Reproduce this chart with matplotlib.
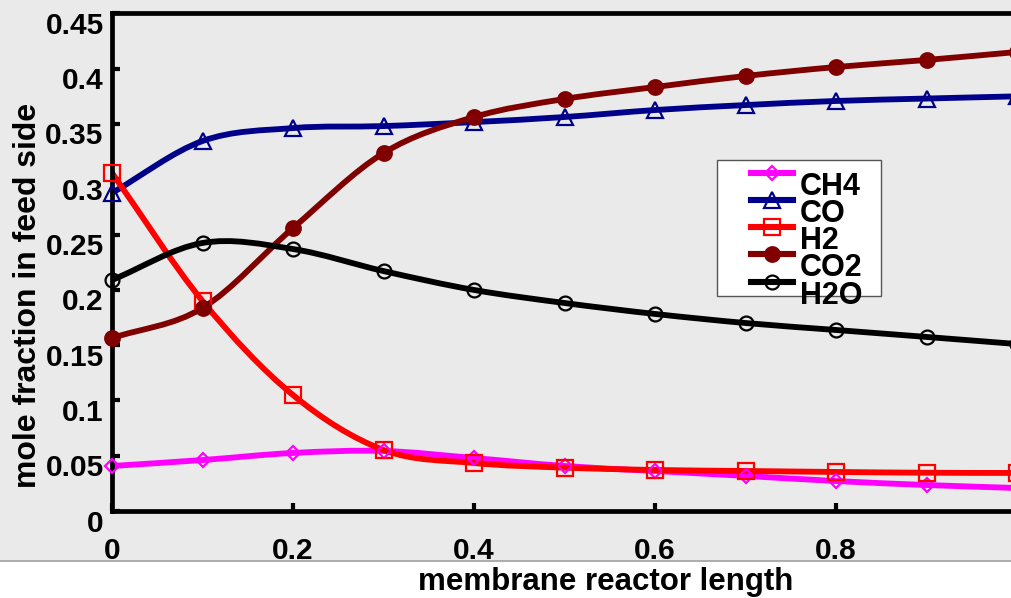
import numpy as np
import matplotlib
matplotlib.use('Agg')
import matplotlib.pyplot as plt
from matplotlib.path import Path
from matplotlib.patches import PathPatch, Rectangle
from matplotlib.lines import Line2D
from matplotlib.transforms import ScaledTranslation

# ---------------- data ----------------
x = [0.0, 0.1, 0.2, 0.3, 0.4, 0.5, 0.6, 0.7, 0.8, 0.9, 1.0]
ch4 = [0.0407, 0.0461, 0.0525, 0.0543, 0.0479, 0.0407, 0.0362, 0.0317, 0.0271, 0.0235, 0.0208]
co = [0.2876, 0.3346, 0.3463, 0.3481, 0.3517, 0.3563, 0.3626, 0.3671, 0.3708, 0.3730, 0.3750]
h2 = [0.3057, 0.1899, 0.1049, 0.0552, 0.0434, 0.0392, 0.0371, 0.0362, 0.0353, 0.0346, 0.0344]
co2 = [0.1564, 0.1836, 0.2559, 0.3237, 0.3563, 0.3726, 0.3834, 0.3934, 0.4015, 0.4079, 0.4151]
h2o = [0.2089, 0.2424, 0.2369, 0.2170, 0.1999, 0.1881, 0.1782, 0.1700, 0.1637, 0.1574, 0.1510]
names = ['CH4', 'CO', 'H2', 'CO2', 'H2O']
xticks = [0, 0.2, 0.4, 0.6, 0.8]
xtick_labels = ['0', '0.2', '0.4', '0.6', '0.8']
yticks = [0, 0.05, 0.1, 0.15, 0.2, 0.25, 0.3, 0.35, 0.4, 0.45]
ytick_labels = ['0', '0.05', '0.1', '0.15', '0.2', '0.25', '0.3', '0.35', '0.4', '0.45']
xlabel = 'membrane reactor length'
ylabel = 'mole fraction in feed side'

# ---------------- styles ----------------
series = [ch4, co, h2, co2, h2o]
colors = ['#ff00ff', '#00008b', '#ff0000', '#800000', '#000000']
markers = ['D', '^', 's', 'o', 'o']
msizes = [7, 12, 11, 10.5, 10]
mfaces = ['none', 'none', 'none', '#800000', 'none']
BG = '#eaeaea'

plt.rcParams['font.family'] = ['Liberation Sans', 'DejaVu Sans']
plt.rcParams['font.weight'] = 'bold'

W, H = 1011, 598
fig = plt.figure(figsize=(W / 100, H / 100), dpi=100)
fig.patch.set_facecolor('white')

def fx(px):
    return px / W

def fy(py):
    return 1 - py / H

# gray window background above the separator line
fig.add_artist(Rectangle((0, fy(560.5)), 1, 1 - fy(560.5), transform=fig.transFigure,
                         facecolor=BG, edgecolor='none', zorder=-5))
fig.add_artist(Line2D([0, 1], [fy(560.5), fy(560.5)], transform=fig.transFigure,
                      color='#a0a0a0', lw=1.2, zorder=-4))

ax = fig.add_axes([fx(112), fy(511), fx(1017) - fx(112), fy(13.4) - fy(511)])
ax.set_facecolor(BG)
ax.set_xlim(0, 1)
ax.set_ylim(0, 0.45)
for s in ['left', 'bottom', 'top']:
    ax.spines[s].set_linewidth(3.4)
ax.spines['right'].set_visible(False)


def smooth_path(xs, ys):
    xs = np.asarray(xs, float)
    ys = np.asarray(ys, float)
    n = len(xs)
    mx = np.empty(n)
    my = np.empty(n)
    mx[1:-1] = (xs[2:] - xs[:-2]) / 2
    my[1:-1] = (ys[2:] - ys[:-2]) / 2
    mx[0] = xs[1] - xs[0]
    my[0] = ys[1] - ys[0]
    mx[-1] = xs[-1] - xs[-2]
    my[-1] = ys[-1] - ys[-2]
    verts = [(xs[0], ys[0])]
    codes = [Path.MOVETO]
    for i in range(n - 1):
        verts += [(xs[i] + mx[i] / 3, ys[i] + my[i] / 3),
                  (xs[i + 1] - mx[i + 1] / 3, ys[i + 1] - my[i + 1] / 3),
                  (xs[i + 1], ys[i + 1])]
        codes += [Path.CURVE4] * 3
    return Path(verts, codes)


for ys, c in zip(series, colors):
    ax.add_patch(PathPatch(smooth_path(x, ys), facecolor='none', edgecolor=c, lw=4.2,
                           capstyle='round', joinstyle='round', zorder=2))
for ys, c, m, ms, mf in zip(series, colors, markers, msizes, mfaces):
    ax.plot(x, ys, linestyle='none', marker=m, markersize=ms, markerfacecolor=mf,
            markeredgecolor=c, markeredgewidth=1.6, zorder=3, clip_on=False)

ax.set_xticks(xticks)
ax.set_xticklabels(xtick_labels)
ax.set_yticks(yticks)
ax.set_yticklabels(ytick_labels)
ax.tick_params(axis='both', direction='in', length=6, width=3, labelsize=21.5,
               top=False, right=False)
ax.tick_params(axis='x', pad=19)
ax.tick_params(axis='y', pad=6)
off = ScaledTranslation(0, -9.5 / 100, fig.dpi_scale_trans)
for lab in ax.get_yticklabels():
    lab.set_transform(lab.get_transform() + off)

fig.text(fx(606), fy(590), xlabel, ha='center', va='baseline', fontsize=22.5, fontweight='bold')
fig.text(fx(28), fy(295), ylabel, ha='center', va='center', rotation=90,
         fontsize=23, fontweight='bold')

# ---------------- legend (MATLAB-like) ----------------
fig.add_artist(Rectangle((fx(717), fy(296)), fx(881) - fx(717), fy(160) - fy(296),
                         transform=fig.transFigure, facecolor='white', edgecolor='#555555',
                         lw=1.0, zorder=5))
rows = [173.3, 200.0, 227.3, 254.0, 281.7]
for name, c, m, ms, mf, ry in zip(names, colors, markers, msizes, mfaces, rows):
    fig.add_artist(Line2D([fx(751), fx(793)], [fy(ry), fy(ry)], transform=fig.transFigure,
                          color=c, lw=4.4, zorder=6))
    fig.add_artist(Line2D([fx(772)], [fy(ry)], transform=fig.transFigure, linestyle='none',
                          marker=m, markersize=ms, markerfacecolor=mf, markeredgecolor=c,
                          markeredgewidth=1.6, zorder=7))
    fig.text(fx(800), fy(ry + 22), name, ha='left', va='baseline', fontsize=22,
             fontweight='bold', zorder=8)

fig.savefig('out.png', dpi=100, facecolor=fig.get_facecolor())
